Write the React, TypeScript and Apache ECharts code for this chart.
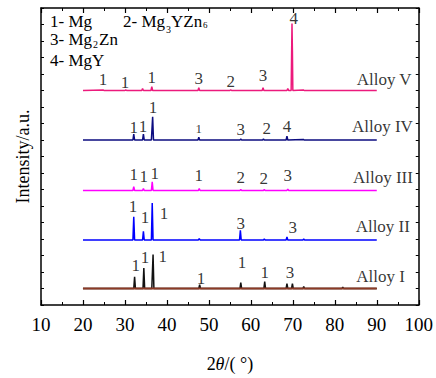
import { useEffect, useRef } from "react";
import * as echarts from "echarts";

// 2θ (deg), stacked intensity (a.u., offset per alloy)
const alloyV: [number, number][] = [
  [20, 221], [24.8, 221.6], [25.0, 221], [30, 221], [30.2, 221.6], [30.4, 221], [34.0, 221], [34.2, 223], [34.4, 221],
  [36.2, 221], [36.4, 225], [36.6, 221], [47.4, 221], [47.6, 224], [47.8, 221], [55.0, 221], [55.2, 221.8], [55.4, 221],
  [62.7, 221], [62.9, 224], [63.1, 221], [68.6, 221], [68.8, 223], [69.0, 221], [69.6, 221], [69.8, 290], [69.9, 262],
  [70.0, 221], [72.5, 221.6], [72.7, 221], [90, 221],
];
const alloyIV: [number, number][] = [
  [20, 170], [31.9, 170], [32.1, 176], [32.3, 170], [34.2, 170], [34.4, 176], [34.6, 170], [36.3, 170], [36.6, 194],
  [36.8, 170], [47.4, 170], [47.6, 173], [47.8, 170], [57.4, 170], [57.6, 171], [57.8, 170], [62.8, 170], [63.0, 171],
  [63.2, 170], [68.4, 170], [68.6, 174], [68.8, 170], [72.5, 170.6], [72.7, 170], [90, 170],
];
const alloyIII: [number, number][] = [
  [20, 118], [31.9, 118], [32.1, 122], [32.3, 118], [34.2, 118], [34.4, 120], [34.6, 118], [36.3, 118], [36.5, 127],
  [36.7, 118], [47.5, 118], [47.7, 120], [47.9, 118], [57.4, 118], [57.6, 119], [57.8, 118], [63.0, 118], [63.2, 119],
  [63.4, 118], [68.6, 118], [68.8, 119.5], [69.0, 118], [90, 118],
];
const alloyII: [number, number][] = [
  [20, 67], [31.9, 67], [32.1, 91], [32.3, 67], [34.2, 67], [34.4, 76], [34.6, 67], [36.3, 67], [36.5, 105], [36.7, 67],
  [47.5, 67], [47.7, 68.5], [47.9, 67], [57.3, 67], [57.5, 77], [57.7, 67], [63.0, 67], [63.2, 68], [63.4, 67],
  [68.4, 67], [68.6, 70], [68.8, 67], [72.4, 67], [72.6, 68], [72.8, 67], [90, 67],
];
const alloyI: [number, number][] = [
  [20, 17], [32.1, 17], [32.3, 29], [32.5, 17], [34.3, 17], [34.5, 38], [34.7, 17], [36.4, 17], [36.7, 52], [36.9, 17],
  [47.6, 17], [47.8, 21], [48.0, 17], [57.4, 17], [57.6, 23], [57.8, 17], [63.1, 17], [63.3, 24], [63.5, 17],
  [68.4, 17], [68.6, 22], [68.8, 17], [69.7, 17], [69.9, 22], [70.1, 17], [72.4, 17], [72.6, 19], [72.8, 17],
  [81.7, 17], [81.9, 18.5], [82.1, 17], [90, 17],
];
const alloyIBase: [number, number][] = [[20, 17], [90, 17]];

const seriesNames = ["Alloy V", "Alloy IV", "Alloy III", "Alloy II", "Alloy I"];
const seriesColors = ["#ec1a7c", "#0c0c80", "#ff00ff", "#0000ff", "#111111"];

// phase labels: [2θ, intensity, text]
const peakLabels: [number, number, string][] = [
  [24.8, 232, "1"], [30.0, 229, "1"], [36.4, 234, "1"], [47.6, 233, "3"], [55.2, 230, "2"], [62.9, 236, "3"], [70.2, 295, "4"],
  [32.1, 183, "1"], [34.3, 184, "1"], [36.7, 203, "1"], [57.6, 181, "3"], [63.8, 182, "2"], [68.6, 184, "4"],
  [32.1, 134, "1"], [34.5, 132, "1"], [37.1, 136, "1"], [47.6, 133, "1"], [57.6, 131, "2"], [63.1, 130, "2"], [68.8, 133, "3"],
  [31.9, 101, "1"], [34.8, 90, "1"], [39.3, 94, "1"], [57.6, 84, "3"], [70.0, 80, "3"],
  [32.6, 41, "1"], [34.8, 49, "1"], [39.0, 50, "1"], [48.1, 27, "1"], [57.9, 44, "1"], [63.3, 33, "1"], [69.3, 34, "3"],
];
const smallPeakLabels: [number, number, string][] = [[47.6, 182, "1"]];
// alloy names, anchored at their right edge
const alloyNameLabels: [number, number, string][] = [
  [98.3, 232, "Alloy V"], [98.6, 184, "Alloy IV"], [98.6, 131, "Alloy III"], [97.9, 81, "Alloy II"], [96.7, 29, "Alloy I"],
];

const FONT = "'Liberation Serif', 'Times New Roman', serif";

export default function App() {
  const ref = useRef<HTMLDivElement>(null);
  useEffect(() => {
    if (!ref.current) return;
    const chart = echarts.init(ref.current, null, { renderer: "svg" });
    const lineData = [alloyV, alloyIV, alloyIII, alloyII, alloyI];
    const xAxisCommon = {
      type: "value" as const,
      min: 10,
      max: 100,
      interval: 10,
      axisLine: { show: true, onZero: false, lineStyle: { color: "#000", width: 1.5 } },
      axisTick: { show: true, inside: true, length: 5, lineStyle: { color: "#000", width: 1.2 } },
      minorTick: { show: true, splitNumber: 2, length: 3, lineStyle: { color: "#000", width: 1 } },
      splitLine: { show: false },
    };
    const yAxisCommon = {
      type: "value" as const,
      min: 0,
      max: 306,
      interval: 17,
      axisLine: { show: true, onZero: false, lineStyle: { color: "#000", width: 1.5 } },
      axisTick: { show: true, inside: true, length: 3, lineStyle: { color: "#000", width: 1 } },
      axisLabel: { show: false },
      splitLine: { show: false },
    };
    const txt = (left: number, top: number, text: string, size: number) => ({
      type: "text",
      left,
      top,
      silent: true,
      style: { text, fontSize: size, fontFamily: FONT, fill: "#000" },
    });
    chart.setOption({
      animation: false,
      backgroundColor: "#fff",
      grid: { left: 41, right: 17, top: 8, bottom: 64, containLabel: false },
      xAxis: [
        {
          ...xAxisCommon,
          position: "bottom",
          name: "2{i|θ}/( °)",
          nameLocation: "middle",
          nameGap: 50,
          nameTextStyle: {
            fontSize: 18, fontFamily: FONT, color: "#000",
            rich: { i: { fontSize: 18, fontFamily: FONT, fontStyle: "italic", color: "#000" } },
          },
          axisLabel: { show: true, fontSize: 19, fontFamily: FONT, color: "#000", margin: 10, showMinLabel: true, showMaxLabel: true },
        },
        { ...xAxisCommon, position: "top", axisLabel: { show: false } },
      ],
      yAxis: [
        {
          ...yAxisCommon,
          position: "left",
          name: "Intensity/a.u.",
          nameLocation: "middle",
          nameGap: 9,
          nameRotate: 90,
          nameTextStyle: { fontSize: 18, fontFamily: FONT, color: "#000" },
        },
        { ...yAxisCommon, position: "right" },
      ],
      graphic: [
        txt(50, 13, "1- Mg", 17),
        txt(123, 13, "2- Mg", 17),
        txt(166, 24, "3", 10),
        txt(171, 13, "YZn", 17),
        txt(203, 20, "6", 9),
        txt(50, 31, "3- Mg", 17),
        txt(93, 39, "2", 10),
        txt(99, 31, "Zn", 17),
        txt(50, 52, "4- MgY", 17),
      ],
      series: [
        ...lineData.map((d, i) => ({
          type: "line",
          name: seriesNames[i],
          data: d,
          xAxisIndex: 0,
          yAxisIndex: 0,
          showSymbol: false,
          symbol: "none",
          silent: true,
          lineStyle: { color: seriesColors[i], width: 1.5 },
          z: 2,
        })),
        {
          type: "line",
          data: alloyIBase,
          showSymbol: false,
          symbol: "none",
          silent: true,
          lineStyle: { color: "#8b3a26", width: 2 },
          z: 3,
        },
        {
          type: "scatter",
          data: peakLabels.map((p) => ({ value: [p[0], p[1]], name: p[2] })),
          symbolSize: 0,
          silent: true,
          z: 5,
          label: { show: true, position: "inside", formatter: (p: any) => p.name, fontSize: 17, fontFamily: FONT, color: "#000" },
        },
        {
          type: "scatter",
          data: smallPeakLabels.map((p) => ({ value: [p[0], p[1]], name: p[2] })),
          symbolSize: 0,
          silent: true,
          z: 5,
          label: { show: true, position: "inside", formatter: (p: any) => p.name, fontSize: 13, fontFamily: FONT, color: "#000" },
        },
        {
          type: "scatter",
          data: alloyNameLabels.map((p) => ({ value: [p[0], p[1]], name: p[2] })),
          symbolSize: 0,
          silent: true,
          z: 5,
          label: {
            show: true, position: "inside", align: "right", formatter: (p: any) => p.name,
            fontSize: 17, fontFamily: FONT, color: "#000",
          },
        },
      ],
    });
    return () => chart.dispose();
  }, []);
  return <div ref={ref} style={{ width: 436, height: 378, position: "absolute", left: 0, top: 0 }} />;
}
